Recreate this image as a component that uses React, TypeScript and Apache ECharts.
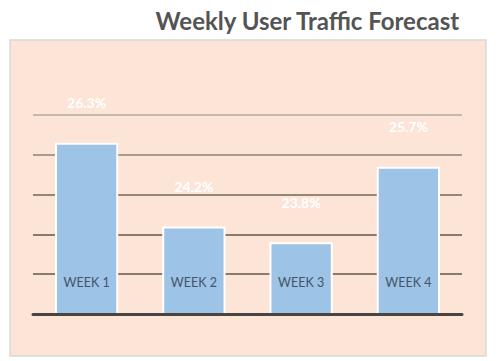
import React, { useEffect, useRef } from "react";
import * as echarts from "echarts";

const categories = ["WEEK 1", "WEEK 2", "WEEK 3", "WEEK 4"];
const trafficShare = [26.3, 24.2, 23.8, 25.7];
const axisMin = 22;
const axisMax = 27;
const axisInterval = 1;
const titleText = "Weekly User Traffic Forecast";

export default function App() {
  const ref = useRef<HTMLDivElement>(null);
  useEffect(() => {
    if (!ref.current) return;
    const chart = echarts.init(ref.current, null, { renderer: "svg" });
    chart.setOption({
      animation: false,
      backgroundColor: "#ffffff",
      textStyle: { fontFamily: "Lato" },
      graphic: [
        {
          type: "rect",
          z: -10,
          shape: { x: 10, y: 40, width: 476, height: 316 },
          style: { fill: "#fce4d6", stroke: "#d9d9d9", lineWidth: 1.5 },
        },
      ],
      title: {
        text: titleText,
        right: 32,
        top: 3,
        textStyle: { fontFamily: "Lato", fontWeight: "bold", fontSize: 24, color: "#545454" },
      },
      grid: { left: 33, right: 36, top: 115, bottom: 47 },
      xAxis: {
        type: "category",
        data: categories,
        axisLine: { show: true, lineStyle: { color: "#4a4441", width: 3 } },
        axisTick: { show: false },
        axisLabel: {
          margin: -32,
          verticalAlign: "middle",
          color: "#44546a",
          fontSize: 12.5,
          fontFamily: "Lato",
        },
        z: 10,
      },
      yAxis: {
        type: "value",
        min: axisMin,
        max: axisMax,
        interval: axisInterval,
        axisLine: { show: false },
        axisTick: { show: false },
        axisLabel: { show: false },
        splitLine: {
          show: true,
          lineStyle: {
            width: 2,
            color: ["#4a4441", "#8a7a6e", "#8a7a6e", "#958577", "#aa9a8c", "#c6b8ac"],
          },
        },
      },
      series: [
        {
          type: "bar",
          data: trafficShare,
          barWidth: "59%",
          itemStyle: { color: "#9dc3e6", borderColor: "#ffffff", borderWidth: 2 },
          label: {
            show: true,
            position: "top",
            distance: 33,
            formatter: (p: any) => p.value.toFixed(1) + "%",
            color: "#ffffff",
            fontWeight: "bold",
            fontSize: 14,
            fontFamily: "Lato",
          },
        },
      ],
    });
    return () => chart.dispose();
  }, []);
  return (
    <div
      ref={ref}
      style={{ position: "fixed", left: 0, top: 0, width: 498, height: 361 }}
    />
  );
}
